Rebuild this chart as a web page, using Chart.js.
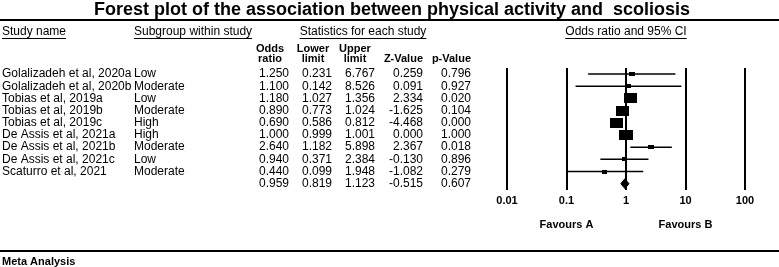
<!DOCTYPE html>
<html>
<head>
<meta charset="utf-8">
<title>Forest plot</title>
<script src="https://cdn.jsdelivr.net/npm/chart.js@4.4.1/dist/chart.umd.min.js"></script>
<style>
  html, body { margin: 0; padding: 0; background: #fff; }
  #wrap { position: relative; width: 779px; height: 267px; }
</style>
</head>
<body>
<div id="wrap"><canvas id="forest" width="779" height="267"></canvas></div>
<script>
// study rows
const studyNames = [
  'Golalizadeh et al, 2020a', 'Golalizadeh et al, 2020b', 'Tobias et al, 2019a',
  'Tobias et al, 2019b', 'Tobias et al, 2019c', 'De Assis et al, 2021a',
  'De Assis et al, 2021b', 'De Assis et al, 2021c', 'Scaturro et al, 2021'
];
const subgroups = ['Low', 'Moderate', 'Low', 'Moderate', 'High', 'High', 'Moderate', 'Low', 'Moderate'];
const oddsRatio  = [1.250, 1.100, 1.180, 0.890, 0.690, 1.000, 2.640, 0.940, 0.440];
const lowerLimit = [0.231, 0.142, 1.027, 0.773, 0.586, 0.999, 1.182, 0.371, 0.099];
const upperLimit = [6.767, 8.526, 1.356, 1.024, 0.812, 1.001, 5.898, 2.384, 1.948];
const zValue     = [0.259, 0.091, 2.334, -1.625, -4.468, 0.000, 2.367, -0.130, -1.082];
const pValue     = [0.796, 0.927, 0.020, 0.104, 0.000, 1.000, 0.018, 0.896, 0.279];
// relative weights, estimated from the square sizes
const weightPct  = [4.2, 2.9, 21.0, 21.0, 21.0, 24.0, 4.2, 2.9, 2.9];

// pooled result: odds ratio, lower, upper, z, p
const pooled = [0.959, 0.819, 1.123, -0.515, 0.607];

const axisTicks = [0.01, 0.1, 1, 10, 100];
const axisTickLabels = ['0.01', '0.1', '1', '10', '100'];

const FONT = '"Liberation Sans", Arial, Helvetica, sans-serif';
const pooledRow = studyNames.length + 1;

// square markers (a bit wider than tall, like the original)
function makeSquare(w) {
  const width = Math.max(4, 2.9 * Math.sqrt(w));
  const height = width * 0.72;
  const c = document.createElement('canvas');
  c.width = Math.round(width);
  c.height = Math.round(height);
  const g = c.getContext('2d');
  g.fillStyle = '#000';
  g.fillRect(0, 0, c.width, c.height);
  return c;
}

const whiskers = [];
oddsRatio.forEach((v, i) => {
  whiskers.push({ x: lowerLimit[i], y: i + 1 });
  whiskers.push({ x: upperLimit[i], y: i + 1 });
  whiskers.push({ x: null, y: null });
});

const squares = oddsRatio.map((v, i) => ({ x: v, y: i + 1 }));

const diamond = [
  { x: pooled[1], y: pooledRow },
  { x: pooled[0], y: pooledRow - 0.4 },
  { x: pooled[2], y: pooledRow },
  { x: pooled[0], y: pooledRow + 0.4 },
  { x: pooled[1], y: pooledRow }
];

function fmt(v) {
  return v.toFixed(3);
}

function underline(ctx, text, x, y, align) {
  const w = ctx.measureText(text).width;
  let x0 = x;
  if (align === 'center') x0 = x - w / 2;
  if (align === 'right') x0 = x - w;
  ctx.fillRect(x0, y, w, 1);
}

// draws the table text, title and rules around the plot
const tablePlugin = {
  id: 'forestTable',
  afterDraw(chart) {
    const ctx = chart.ctx;
    const yS = chart.scales.y;
    const xS = chart.scales.x;
    ctx.save();
    ctx.fillStyle = '#000';
    ctx.textBaseline = 'middle';

    // title and top rule
    ctx.font = 'bold 18px ' + FONT;
    ctx.textAlign = 'center';
    ctx.fillText('Forest plot of the association between physical activity and  scoliosis', 392, 10);
    ctx.fillRect(0, 19, 779, 2);

    // column headers
    ctx.font = '12px ' + FONT;
    ctx.textAlign = 'left';
    ctx.fillText('Study name', 2, 32);
    underline(ctx, 'Study name', 2, 38, 'left');
    ctx.fillText('Subgroup within study', 134, 32);
    underline(ctx, 'Subgroup within study', 134, 38, 'left');
    ctx.textAlign = 'center';
    ctx.fillText('Statistics for each study', 363, 32);
    underline(ctx, 'Statistics for each study', 363, 38, 'center');
    ctx.fillText('Odds ratio and 95% CI', 626, 32);
    underline(ctx, 'Odds ratio and 95% CI', 626, 38, 'center');

    ctx.font = 'bold 11px ' + FONT;
    ctx.fillText('Odds', 270, 49);
    ctx.fillText('ratio', 270, 59);
    ctx.fillText('Lower', 313, 49);
    ctx.fillText('limit', 313, 59);
    ctx.fillText('Upper', 355, 49);
    ctx.fillText('limit', 355, 59);
    ctx.textAlign = 'right';
    ctx.fillText('Z-Value', 423, 59);
    ctx.fillText('p-Value', 471, 59);

    // study rows
    ctx.font = '12px ' + FONT;
    const cols = [289, 332, 375, 423, 471];
    studyNames.forEach((name, i) => {
      const y = yS.getPixelForValue(i + 1);
      ctx.textAlign = 'left';
      ctx.fillText(name, 2, y);
      ctx.fillText(subgroups[i], 134, y);
      ctx.textAlign = 'right';
      const vals = [oddsRatio[i], lowerLimit[i], upperLimit[i], zValue[i], pValue[i]];
      vals.forEach((v, j) => ctx.fillText(fmt(v), cols[j], y));
    });
    const yp = yS.getPixelForValue(pooledRow);
    pooled.forEach((v, j) => ctx.fillText(fmt(v), cols[j], yp));

    // favours labels under the axis
    ctx.font = 'bold 11px ' + FONT;
    ctx.textAlign = 'center';
    ctx.fillText('Favours A', xS.getPixelForValue(0.1), 225);
    ctx.fillText('Favours B', xS.getPixelForValue(10), 225);

    // bottom rule and footer
    ctx.fillRect(0, 250, 779, 2);
    ctx.textAlign = 'left';
    ctx.fillText('Meta Analysis', 2, 262);
    ctx.restore();
  }
};

new Chart(document.getElementById('forest'), {
  type: 'scatter',
  data: {
    datasets: [
      {
        label: 'Study',
        data: squares,
        pointStyle: weightPct.map(makeSquare),
        pointRadius: 5,
        backgroundColor: '#000',
        borderColor: '#000',
        order: 0
      },
      {
        label: '95% CI',
        data: whiskers,
        showLine: true,
        spanGaps: false,
        borderColor: '#000',
        borderWidth: 1.5,
        pointRadius: 0,
        order: 1
      },
      {
        label: 'Pooled',
        data: diamond,
        showLine: true,
        fill: 'shape',
        backgroundColor: '#000',
        borderColor: '#000',
        borderWidth: 1,
        pointRadius: 0,
        order: 0
      }
    ]
  },
  options: {
    responsive: false,
    animation: false,
    devicePixelRatio: 1,
    layout: { padding: { left: 507, right: 34, top: 68, bottom: 54 } },
    plugins: {
      legend: { display: false },
      tooltip: { enabled: false }
    },
    scales: {
      x: {
        type: 'logarithmic',
        min: 0.01,
        max: 100,
        afterBuildTicks: axis => {
          axis.ticks = axisTicks.map(v => ({ value: v }));
        },
        grid: { color: '#000', lineWidth: 2, drawTicks: false },
        border: { display: false },
        ticks: {
          autoSkip: false,
          maxRotation: 0,
          padding: 5,
          color: '#000',
          font: { family: FONT, size: 11, weight: 'bold' },
          callback: (v, i) => axisTickLabels[i]
        }
      },
      y: {
        type: 'linear',
        display: false,
        reverse: true,
        min: 0.5,
        max: 10.5
      }
    }
  },
  plugins: [tablePlugin]
});
</script>
</body>
</html>
